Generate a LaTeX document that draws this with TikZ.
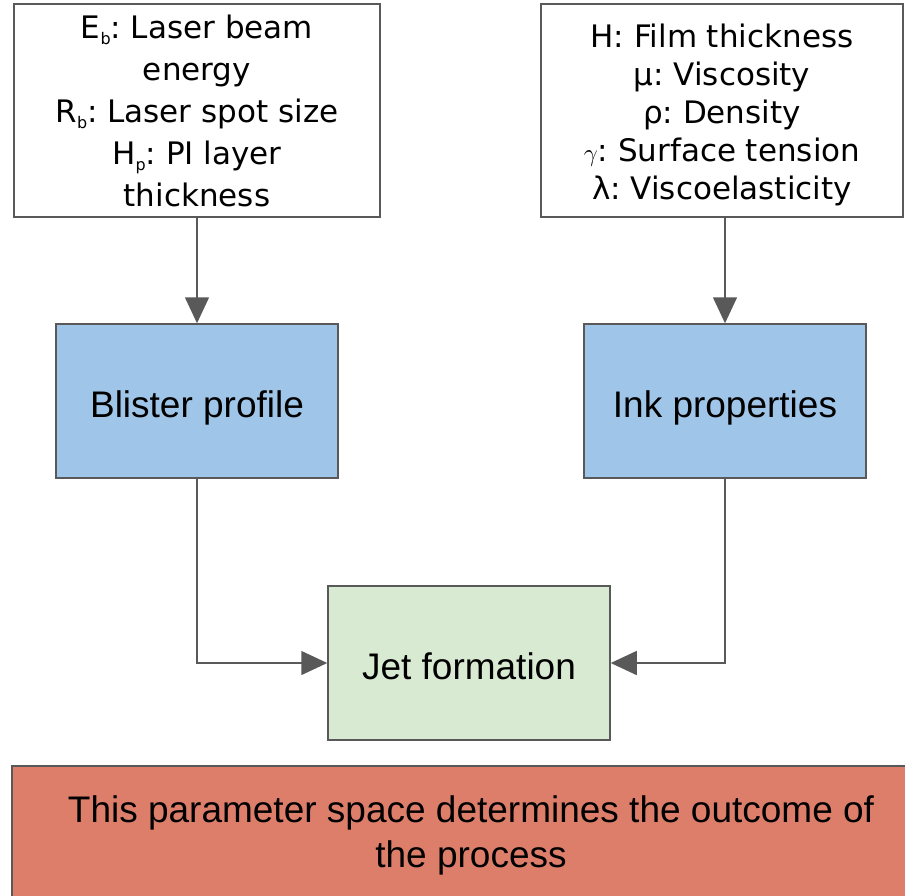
\documentclass[tikz,border=0pt]{standalone}
\usepackage{fontspec}
\setmainfont{Liberation Sans}
\newfontfamily\verafont{DejaVu Sans}
\usetikzlibrary{arrows.meta}
\definecolor{edgeGray}{RGB}{89,89,89}
\definecolor{stageBlue}{RGB}{159,197,232}
\definecolor{jetGreen}{RGB}{217,234,211}
\definecolor{noteRed}{RGB}{221,126,107}
\newcommand{\sbs}[1]{\raisebox{-6pt}{\fontsize{16}{16}\selectfont #1}}
\frenchspacing

\begin{document}
\begin{tikzpicture}[x=1pt,y=-1pt,
    box/.style={draw=edgeGray,line width=1.5pt,inner sep=0pt,align=center},
    parbox/.style={box,fill=white,minimum height=213pt,font=\verafont\fontsize{31}{38}\selectfont},
    stagebox/.style={box,minimum width=282pt,minimum height=154pt,text height=33pt,text depth=0pt,font=\fontsize{37}{44}\selectfont},
    arr/.style={draw=edgeGray,line width=1.5pt,-{Triangle[length=26pt,width=24pt]}}]
  \useasboundingbox (0,0) rectangle (905,895);
  % parameter boxes
  \node[parbox,minimum width=366pt,font=\verafont\fontsize{31}{42}\selectfont] (laser) at (197,110.5)
    {E\sbs{b}: Laser beam\\energy\\R\sbs{b}: Laser spot size\\H\sbs{p}: PI layer\\thickness};
  \node[parbox,minimum width=362pt,label={[align=center,inner sep=0pt,yshift=-4pt,font=\verafont\fontsize{31}{38}\selectfont]center:{H: Film thickness\\μ: Viscosity\\ρ: Density\\$\gamma$: Surface tension\\λ: Viscoelasticity}}] (fluid) at (722,110.5) {};
  % stages
  \node[stagebox,fill=stageBlue] (blister) at (197,401) {Blister profile};
  \node[stagebox,fill=stageBlue] (ink) at (725,401) {Ink properties};
  \node[stagebox,fill=jetGreen] (jet) at (469,663) {Jet formation};
  % note
  \node[box,fill=noteRed,minimum width=918pt,minimum height=138pt,font=\fontsize{37}{45}\selectfont] (outcome) at (471,835)
    {This parameter space determines the outcome of\\the process};
  % connectors
  \draw[arr] (laser.south) -- (blister.north);
  \draw[arr] (fluid.south -| ink.north) -- (ink.north);
  \draw[arr] (blister.south) |- (jet.west);
  \draw[arr] (ink.south) |- (jet.east);
\end{tikzpicture}
\end{document}
